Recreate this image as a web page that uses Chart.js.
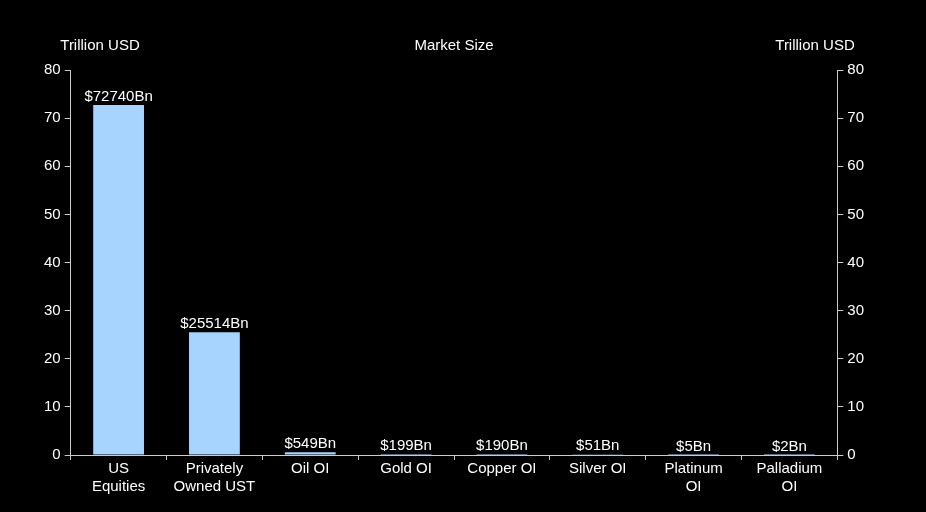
<!DOCTYPE html>
<html><head><script src="https://cdn.jsdelivr.net/npm/chart.js@4"></script>
<style>html,body{margin:0;background:#000}#w{width:926px;height:512px}</style></head>
<body><div id="w"><canvas id="c"></canvas></div>
<script>
const categories=[["US","Equities"],["Privately","Owned UST"],"Oil OI","Gold OI","Copper OI","Silver OI",["Platinum","OI"],["Palladium","OI"]];
const values=[72.74,25.514,0.549,0.199,0.190,0.051,0.005,0.002];
const valueLabels=["$72740Bn","$25514Bn","$549Bn","$199Bn","$190Bn","$51Bn","$5Bn","$2Bn"];
const yTicks=[0,10,20,30,40,50,60,70,80];
const font={family:"Liberation Sans, Arial, sans-serif",size:15};
const extra={id:'extra',afterDatasetsDraw(ch){const c=ch.ctx;c.save();c.fillStyle='#fff';c.font='15px Liberation Sans, Arial';c.textAlign='center';c.textBaseline='bottom';
ch.getDatasetMeta(0).data.forEach((b,i)=>c.fillText(valueLabels[i],b.x,b.y-1));
c.textBaseline='middle';c.fillText('Market Size',(ch.chartArea.left+ch.chartArea.right)/2,46);
c.fillText('Trillion USD',100,46);c.fillText('Trillion USD',815,46);c.restore();}};
const axisY=(pos)=>({position:pos,min:0,max:80,afterBuildTicks:a=>{a.ticks=yTicks.map(v=>({value:v}))},
 grid:{display:true,drawOnChartArea:false,color:'#ccc',tickLength:6},border:{color:'#ccc'},ticks:{color:'#fff',font,padding:4}});
new Chart(document.getElementById('c'),{type:'bar',
data:{labels:categories,datasets:[{data:values,backgroundColor:'#a6d4ff',barPercentage:0.53,categoryPercentage:1}]},
options:{responsive:true,maintainAspectRatio:false,animation:false,
layout:{padding:{top:70,left:40,right:58,bottom:16}},
plugins:{legend:{display:false},tooltip:{enabled:false}},
scales:{x:{grid:{display:true,drawOnChartArea:false,color:'#ccc',tickLength:5,offset:true},border:{color:'#ccc'},ticks:{color:'#fff',font,padding:0,maxRotation:0,autoSkip:false}},
y:axisY('left'),y2:axisY('right')}},plugins:[extra]});
</script></body></html>
